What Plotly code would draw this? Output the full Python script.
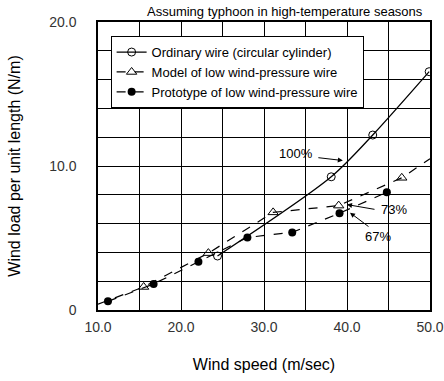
import plotly.graph_objects as go

# Data
ordinary_x = [24.4, 38.1, 43.1, 49.9]
ordinary_y = [3.75, 9.25, 12.15, 16.55]

model_x = [15.5, 23.3, 31.1, 39.0, 46.6]
model_y = [1.6, 3.95, 6.78, 7.25, 9.18]
# dashed trend-line ends drawn without markers
model_line_start = (10.0, 0.4)
model_line_end = (50.0, 10.5)

proto_x = [11.2, 16.7, 22.1, 28.0, 33.4, 39.1, 44.8]
proto_y = [0.6, 1.81, 3.35, 5.04, 5.39, 6.72, 8.18]

names = ["Ordinary wire (circular cylinder)",
         "Model of low wind-pressure wire",
         "Prototype of low wind-pressure wire"]

FONT = "Arial, Liberation Sans, sans-serif"

fig = go.Figure()

# lines (no legend)
fig.add_trace(go.Scatter(x=ordinary_x, y=ordinary_y, mode="lines",
                         line=dict(color="black", width=1.3, shape="spline", smoothing=0.8),
                         showlegend=False, hoverinfo="skip"))
fig.add_trace(go.Scatter(x=[model_line_start[0]] + model_x + [model_line_end[0]],
                         y=[model_line_start[1]] + model_y + [model_line_end[1]],
                         mode="lines", line=dict(color="black", width=1.2, dash="dash"),
                         showlegend=False, hoverinfo="skip"))
fig.add_trace(go.Scatter(x=proto_x, y=proto_y, mode="lines",
                         line=dict(color="black", width=1.2, dash="dash"),
                         showlegend=False, hoverinfo="skip"))

# markers
fig.add_trace(go.Scatter(x=ordinary_x, y=ordinary_y, mode="markers",
                         marker=dict(symbol="circle-open", size=8, color="black", line=dict(width=1)),
                         showlegend=False))
fig.add_trace(go.Scatter(x=model_x, y=model_y, mode="markers",
                         marker=dict(symbol="triangle-up-open", size=9, color="black", line=dict(width=1)),
                         showlegend=False))
fig.add_trace(go.Scatter(x=proto_x, y=proto_y, mode="markers",
                         marker=dict(symbol="circle", size=8, color="black"),
                         showlegend=False))

# legend entries
fig.add_trace(go.Scatter(x=[None], y=[None], mode="lines+markers", name=names[0],
                         line=dict(color="black", width=1.3),
                         marker=dict(symbol="circle-open", size=8, color="black", line=dict(width=1))))
fig.add_trace(go.Scatter(x=[None], y=[None], mode="lines+markers", name=names[1],
                         line=dict(color="black", width=1.2, dash="dash"),
                         marker=dict(symbol="triangle-up-open", size=9, color="black", line=dict(width=1))))
fig.add_trace(go.Scatter(x=[None], y=[None], mode="lines+markers", name=names[2],
                         line=dict(color="black", width=1.2, dash="dash"),
                         marker=dict(symbol="circle", size=8, color="black")))

# percentage annotations
arrow = dict(showarrow=True, arrowhead=2, arrowsize=1, arrowwidth=1, arrowcolor="black",
             axref="pixel", ayref="pixel", text="")
fig.add_annotation(x=39.5, y=10.38, ax=-26, ay=-3, **arrow)
fig.add_annotation(x=40.0, y=7.32, ax=29, ay=5, **arrow)
fig.add_annotation(x=40.36, y=6.76, ax=20, ay=15, **arrow)

txt = dict(showarrow=False, font=dict(family=FONT, size=13, color="black"))
fig.add_annotation(x=33.85, y=10.87, text="100%", **txt)
fig.add_annotation(x=45.7, y=6.97, text="73%", **txt)
fig.add_annotation(x=43.7, y=5.09, text="67%", **txt)

fig.add_annotation(x=0.563, y=1.0, xref="paper", yref="paper", yanchor="bottom", yshift=1,
                   text="Assuming typhoon in high-temperature seasons", showarrow=False,
                   font=dict(family=FONT, size=13, color="black"))

fig.update_layout(
    width=444, height=381,
    margin=dict(l=98, r=14, t=22, b=71, autoexpand=False),
    paper_bgcolor="white", plot_bgcolor="white",
    font=dict(family=FONT, color="black"),
    legend=dict(x=0.038, y=0.951, xanchor="left", yanchor="top",
                bgcolor="white", bordercolor="black", borderwidth=1,
                font=dict(family=FONT, size=13, color="black"),
                tracegroupgap=0, itemwidth=30),
    xaxis=dict(range=[10, 50], tick0=10, dtick=10, tickformat=".1f",
               showgrid=True, gridcolor="black", gridwidth=1,
               minor=dict(dtick=5, showgrid=True, gridcolor="black", gridwidth=1),
               showline=True, linecolor="black", linewidth=1.5, mirror=True,
               ticks="", zeroline=False, ticklabelstandoff=3, automargin=True,
               tickfont=dict(family=FONT, size=14, color="#333"),
               title=dict(text="Wind speed (m/sec)", font=dict(family=FONT, size=16, color="black"), standoff=25)),
    yaxis=dict(range=[0, 20], tick0=0, dtick=10,
               tickvals=[0, 10, 20], ticktext=["0", "10.0", "20.0"],
               showgrid=True, gridcolor="black", gridwidth=1,
               minor=dict(dtick=2, showgrid=True, gridcolor="black", gridwidth=1),
               showline=True, linecolor="black", linewidth=1.5, mirror=True,
               ticks="", zeroline=False, ticklabelstandoff=17, automargin=True,
               tickfont=dict(family=FONT, size=14, color="#333"),
               title=dict(text="Wind load per unit length (N/m)", font=dict(family=FONT, size=16, color="black"), standoff=25)),
)

fig.write_html("out.html")
